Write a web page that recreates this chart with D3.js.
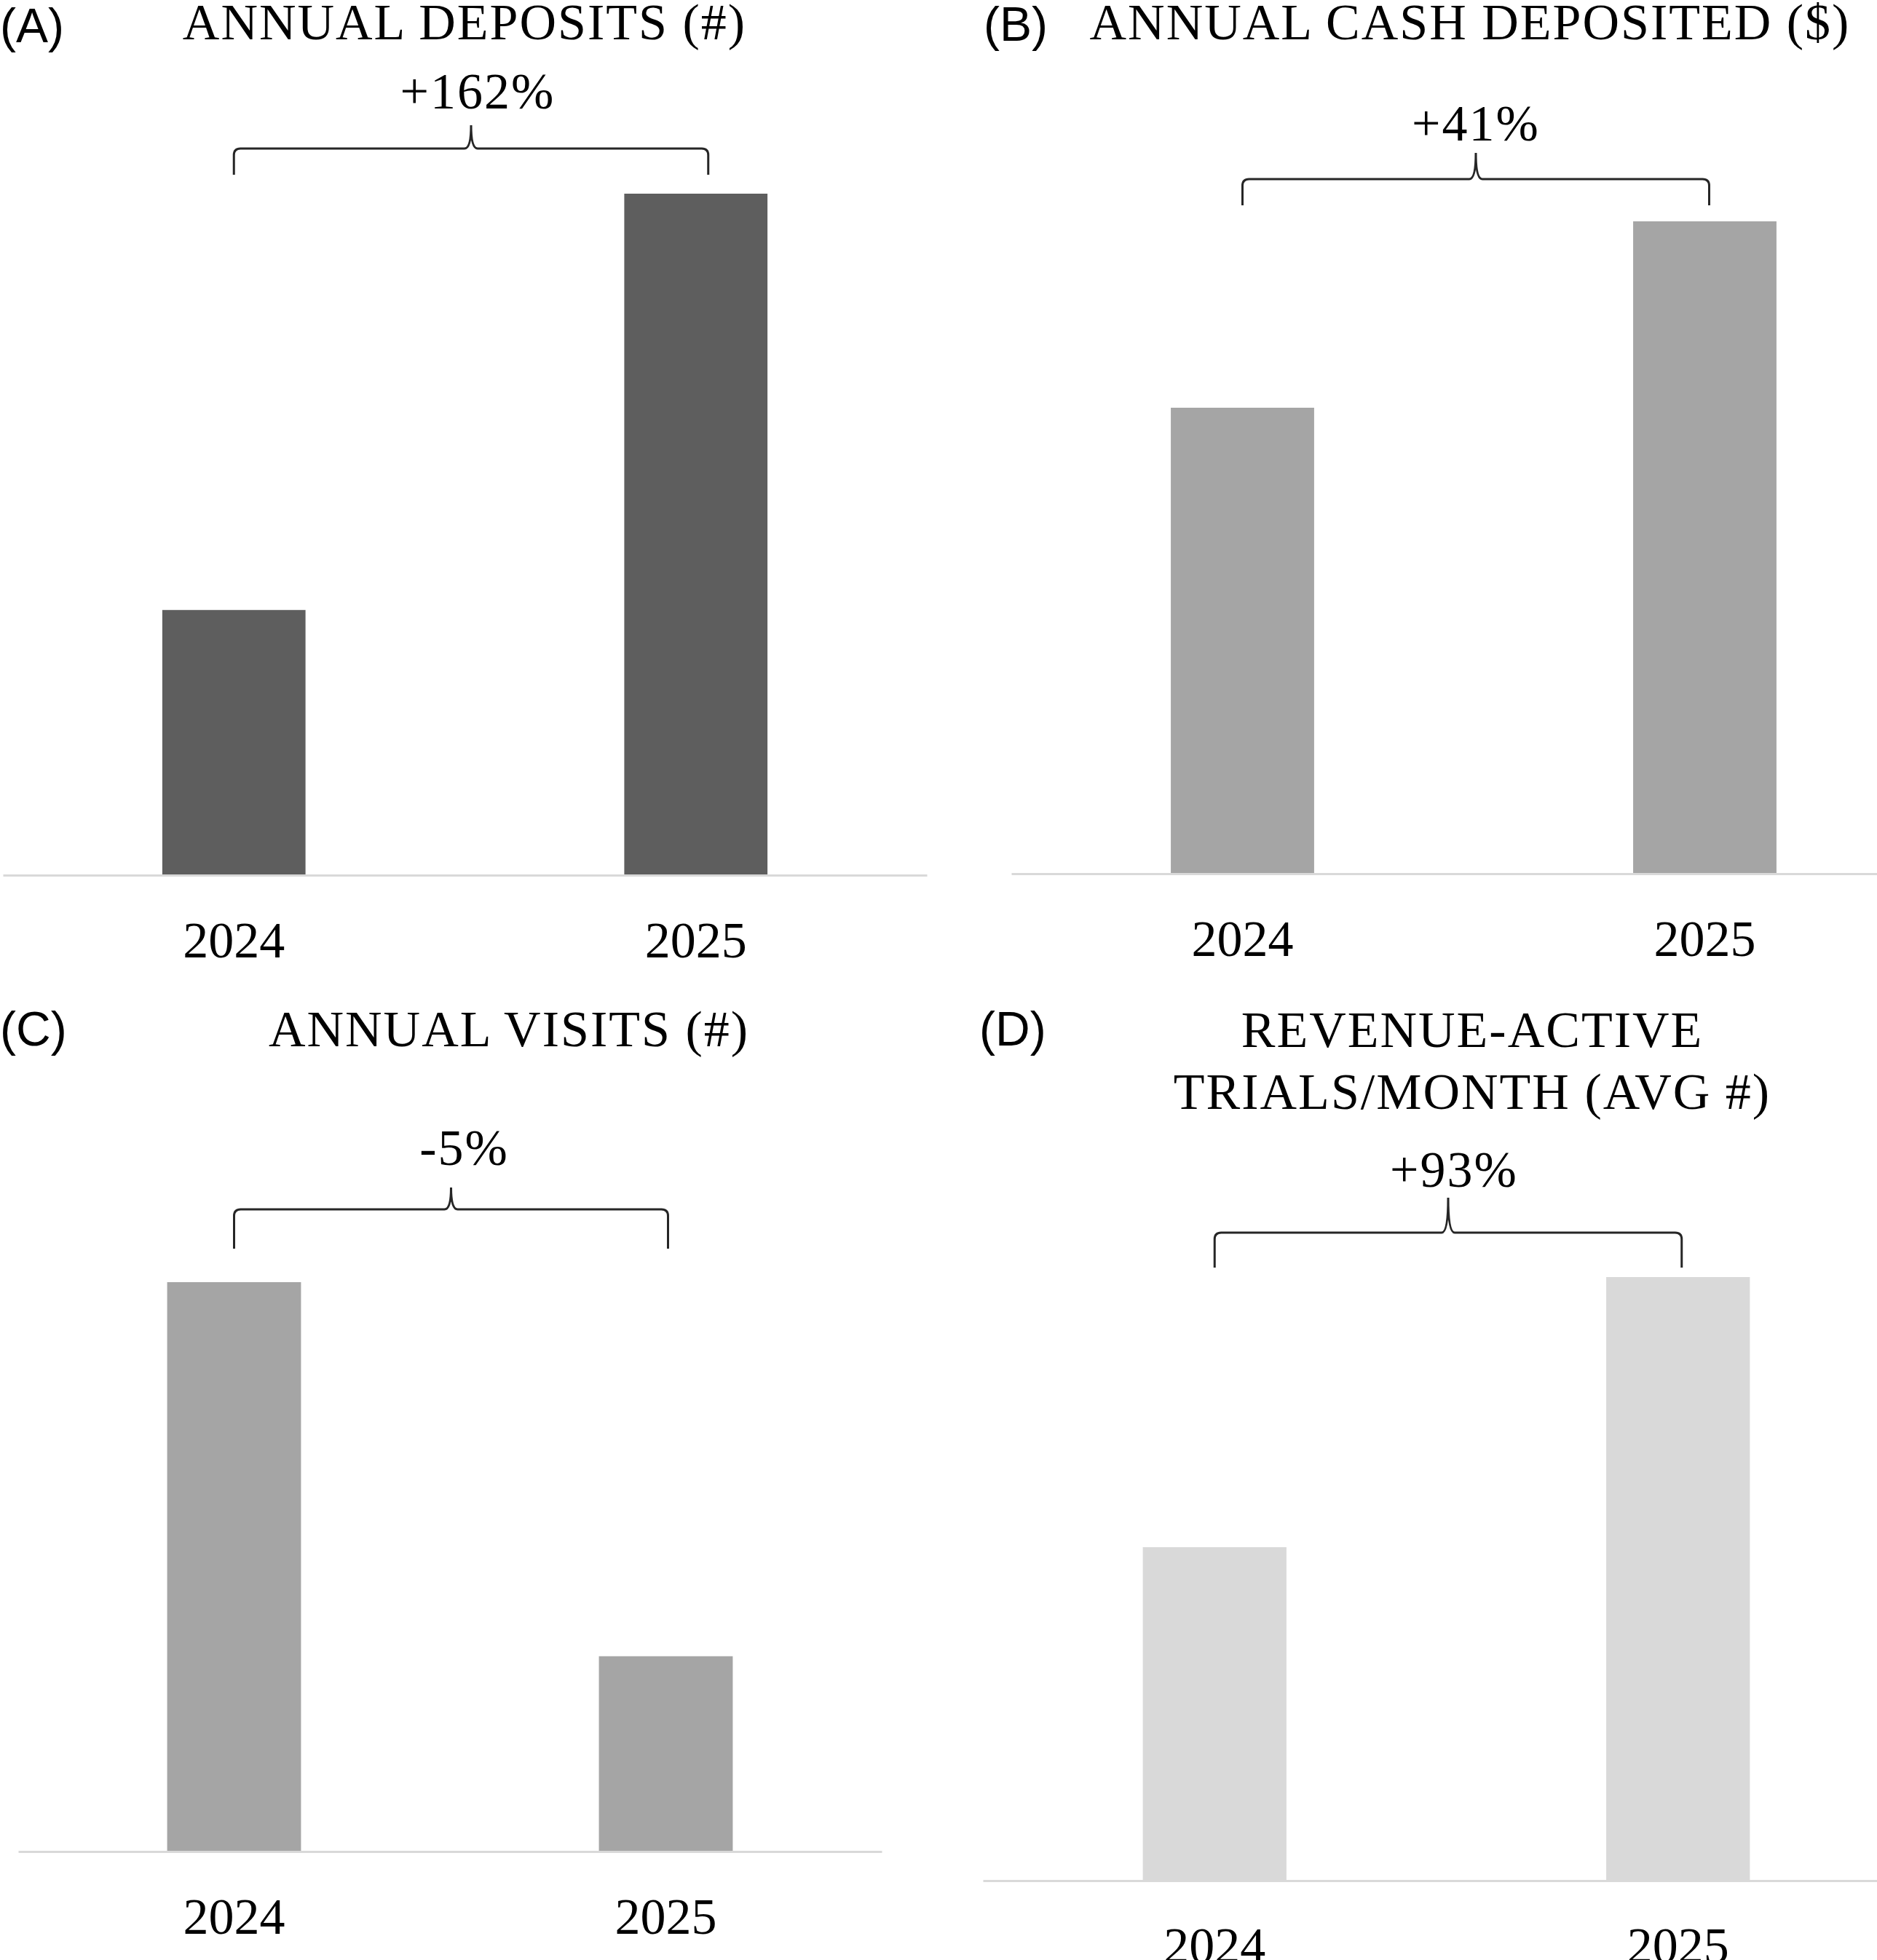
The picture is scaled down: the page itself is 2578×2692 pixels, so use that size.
<!DOCTYPE html>
<html>
<head>
<meta charset="utf-8">
<script src="https://cdn.jsdelivr.net/npm/d3@7"></script>
<style>
  body { margin: 0; background: #fff; }
  svg { display: block; }
</style>
</head>
<body>
<script>
// values as index (2024 = 100)
var years = ['2024', '2025']
var depositsCount = [100, 257]
var cashDeposited = [100, 140]
var visits = [100, 34.3]
var trialsPerMonth = [100, 181]

var changeLabels = ['+162%', '+41%', '-5%', '+93%']
var panelLetters = ['(A)', '(B)', '(C)', '(D)']
var titles = [
  ['ANNUAL DEPOSITS (#)'],
  ['ANNUAL CASH DEPOSITED ($)'],
  ['ANNUAL VISITS (#)'],
  ['REVENUE-ACTIVE', 'TRIALS/MONTH (AVG #)']
]
var barColors = ['#5e5e5e', '#a5a5a5', '#a5a5a5', '#d9d9d9']

var wdt = 2578, hgt = 2692
var serif = '"Liberation Serif", "Times New Roman", serif'
var sans = '"Liberation Sans", Arial, sans-serif'

var svg = d3.select(document.body).append('svg')
  .attr('width', wdt)
  .attr('height', hgt)

// layout of each panel (pixels)
var panels = [
  { values: depositsCount, letterX: 0, letterY: 58, titleX: 638, titleY: [54], annoY: 149, annoDx: 9,
    brace: [172, 204, 240], braceExtra: 17, plotTop: 266, axisY: 1202, xRange: [4, 1273] },
  { values: cashDeposited, letterX: 1351, letterY: 56, titleX: 2019, titleY: [54], annoY: 193, annoDx: 0,
    brace: [210, 246, 282], braceExtra: 6, plotTop: 304, axisY: 1200, xRange: [1389, 2659] },
  { values: visits, letterX: 0, letterY: 1436, titleX: 699, titleY: [1437], annoY: 1600, annoDx: 18,
    brace: [1631, 1661, 1715], braceExtra: 3, plotTop: 1761, axisY: 2543, xRange: [25, 1211] },
  { values: trialsPerMonth, letterX: 1345, letterY: 1436, titleX: 2022, titleY: [1438, 1523], annoY: 1630, annoDx: 8,
    brace: [1645, 1693, 1741], braceExtra: 5, plotTop: 1754, axisY: 2583, xRange: [1350, 2623] }
]

function bracePath (x1, x2, yTip, yMid, yEnd) {
  var cx = (x1 + x2) / 2, r = 9
  var p = d3.path()
  p.moveTo(x1, yEnd)
  p.lineTo(x1, yMid + r)
  p.quadraticCurveTo(x1, yMid, x1 + r, yMid)
  p.lineTo(cx - r, yMid)
  p.quadraticCurveTo(cx, yMid, cx, yTip)
  p.quadraticCurveTo(cx, yMid, cx + r, yMid)
  p.lineTo(x2 - r, yMid)
  p.quadraticCurveTo(x2, yMid, x2, yMid + r)
  p.lineTo(x2, yEnd)
  return p.toString()
}

panels.forEach(function (pn, k) {
  var g = svg.append('g')

  var x = d3.scaleBand().domain(years).range(pn.xRange)
    .paddingInner(0.69).paddingOuter(0.345)
  var y = d3.scaleLinear().domain([0, d3.max(pn.values)]).range([pn.axisY, pn.plotTop])

  g.selectAll('rect').data(pn.values).enter().append('rect')
    .attr('x', function (d, i) { return x(years[i]) })
    .attr('y', function (d) { return y(d) })
    .attr('width', x.bandwidth())
    .attr('height', function (d) { return y(0) - y(d) })
    .attr('fill', barColors[k])

  var ax = g.append('g')
    .attr('transform', 'translate(0,' + pn.axisY + ')')
    .call(d3.axisBottom(x).tickSize(0).tickSizeOuter(0).tickPadding(63))
  ax.select('.domain').attr('stroke', '#d9d9d9').attr('stroke-width', 3)
  ax.selectAll('text')
    .attr('fill', '#000')
    .style('font-family', serif)
    .style('font-size', '70px')

  // panel letter
  g.append('text')
    .attr('x', pn.letterX).attr('y', pn.letterY)
    .style('font-family', sans).style('font-size', '66px')
    .text(panelLetters[k])

  // title
  g.selectAll('.title').data(titles[k]).enter().append('text')
    .attr('class', 'title')
    .attr('x', pn.titleX)
    .attr('y', function (d, i) { return pn.titleY[i] })
    .attr('text-anchor', 'middle')
    .style('font-family', serif).style('font-size', '70px').style('letter-spacing', '2px')
    .text(function (d) { return d })

  // change bracket
  var c1 = x(years[0]) + x.bandwidth() / 2
  var c2 = x(years[1]) + x.bandwidth() / 2 + pn.braceExtra
  g.append('path')
    .attr('d', bracePath(c1, c2, pn.brace[0], pn.brace[1], pn.brace[2]))
    .attr('fill', 'none')
    .attr('stroke', '#262626')
    .attr('stroke-width', 3)

  g.append('text')
    .attr('x', (c1 + c2) / 2 + pn.annoDx).attr('y', pn.annoY)
    .attr('text-anchor', 'middle')
    .style('font-family', serif).style('font-size', '70px').style('letter-spacing', '2px')
    .text(changeLabels[k])
})
</script>
</body>
</html>
